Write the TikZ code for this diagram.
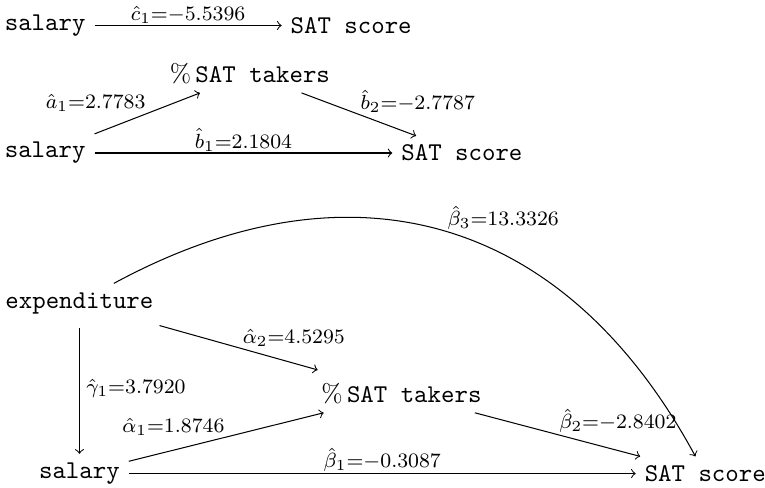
\documentclass[tikz,border=0pt]{standalone}
\usepackage{amsmath,amssymb}
\usepackage{tikz}

\begin{document}
\begin{tikzpicture}[
    var/.style={font=\ttfamily},
    coef/.style={font=\footnotesize, inner sep=0.5pt}
]
    \useasboundingbox (0,0) rectangle (10.50,6.69);

    % Total effect of salary
    \node[var] (sal1) at (0.62,6.34) {salary};
    \node[var] (score1) at (4.82,6.34) {SAT score};
    \draw[->] (sal1) -- node[coef, above] {$\hat{c}_1{=}{-}5.5396$} (score1);

    % One mediator: % SAT takers
    \node[var] (sal2) at (0.62,4.59) {salary};
    \node (pct2) at (3.43,5.68) {$\%$\,\texttt{SAT takers}};
    \node[var] (score2) at (6.34,4.59) {SAT score};
    \draw[->] (sal2) -- node[coef, midway, above left] {$\hat{a}_1{=}2.7783$} (pct2);
    \draw[->] (pct2) -- node[coef, midway, above right] {$\hat{b}_2{=}{-}2.7787$} (score2);
    \draw[->] (sal2) -- node[coef, above] {$\hat{b}_1{=}2.1804$} (score2);

    % Full model with expenditure
    \node[var] (expend) at (1.09,2.53) {expenditure};
    \node[var] (sal3) at (1.09,0.19) {salary};
    \node (pct3) at (5.51,1.29) {$\%$\,\texttt{SAT takers}};
    \node[var] (score3) at (9.68,0.19) {SAT score};

    \draw[->, shorten <=2pt] (expend) -- node[coef, right, xshift=2pt] {$\hat{\gamma}_1{=}3.7920$} (sal3);
    \draw[->, shorten <=4pt, shorten >=6pt] (expend) -- node[coef, midway, above right] {$\hat{\alpha}_2{=}4.5295$} (pct3);
    \draw[->] (sal3) -- node[coef, midway, above left] {$\hat{\alpha}_1{=}1.8746$} (pct3);
    \draw[->] (pct3) -- node[coef, midway, above right] {$\hat{\beta}_2{=}{-}2.8402$} (score3);
    \draw[->] (sal3) -- node[coef, above] {$\hat{\beta}_1{=}{-}0.3087$} (score3);
    \draw[->] (expend) to[bend left=45, looseness=1.15] node[coef, midway, above right] {$\hat{\beta}_3{=}13.3326$} (score3);

\end{tikzpicture}
\end{document}
